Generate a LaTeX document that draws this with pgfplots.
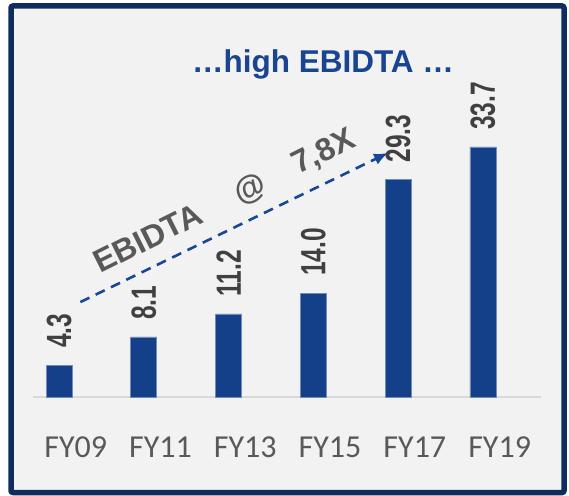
\documentclass[border=0pt]{standalone}
\usepackage{pgfplots}
\pgfplotsset{compat=1.18}
\usepackage{pgfplotstable}
\usetikzlibrary{arrows.meta}
\usepackage{fontspec}
\setmainfont{Liberation Sans}
\newfontfamily\tickfont{Carlito}
\newfontfamily\narrowfont[FakeStretch=0.7]{Liberation Sans}

\definecolor{barblue}{RGB}{20,64,138}
\definecolor{framenavy}{RGB}{14,45,94}
\definecolor{bggray}{RGB}{242,242,242}
\definecolor{labgray}{RGB}{64,64,64}
\definecolor{tickgray}{RGB}{89,89,89}
\definecolor{titleblue}{RGB}{25,68,145}
\definecolor{axisgray}{RGB}{217,217,217}
\definecolor{arrowblue}{RGB}{25,70,150}

% EBIDTA by year
\pgfplotstableread{
x y lab
0 4.3 4.3
1 8.1 8.1
2 11.2 11.2
3 14.0 14.0
4 29.3 29.3
5 33.7 33.7
}\ebitdata

\begin{document}
\begin{tikzpicture}[x=1pt,y=1pt]
\fill[white] (0,0) rectangle (569,495);
\path[use as bounding box] (0,0) rectangle (569,495);
\draw[framenavy, line width=5.5pt, fill=bggray, rounded corners=2pt] (11,2.5) rectangle (564,489);

\begin{axis}[
  at={(69.6,132)}, anchor=origin,
  scale only axis, width=508.7pt, height=300pt,
  xmin=-0.31, xmax=5.69, ymin=0, ymax=40.43,
  axis x line*=bottom, axis y line=none,
  x axis line style={axisgray, line width=1.8pt, -},
  xtick={0.197,1.197,2.197,3.197,4.197,5.197},
  xticklabels={FY09,FY11,FY13,FY15,FY17,FY19},
  major tick length=0pt,
  xticklabel style={font=\tickfont\fontsize{32}{32}\selectfont, text=tickgray,
    anchor=base, yshift=-60pt, inner sep=0pt},
  ytick=\empty,
  clip=false,
  ybar, bar width=26pt,
  nodes near coords, point meta=explicit symbolic,
  every node near coord/.append style={rotate=90, anchor=west, inner xsep=17pt,
    inner ysep=0pt, font=\narrowfont\bfseries\fontsize{35}{35}\selectfont, text=labgray},
]
\addplot[fill=barblue, draw=barblue!60!white, line width=0.6pt]
  table[x=x, y=y, meta=lab] {\ebitdata};

\draw[arrowblue, line width=2.6pt, dash pattern=on 10pt off 7pt,
  -{Latex[length=14pt, width=12pt]}] (axis cs:0.252,12.8) -- (axis cs:3.88,32.9);
\node[rotate=26.5, text=tickgray, font=\bfseries\fontsize{32}{32}\selectfont]
  at (axis cs:1.96,26.3) {EBIDTA\hspace{40pt}@\hspace{34pt}7,8X};
\end{axis}

\node[anchor=base, text=titleblue, font=\bfseries\fontsize{31.5}{31.5}\selectfont]
  at (323,422.7) {…high EBIDTA …};
\end{tikzpicture}
\end{document}
